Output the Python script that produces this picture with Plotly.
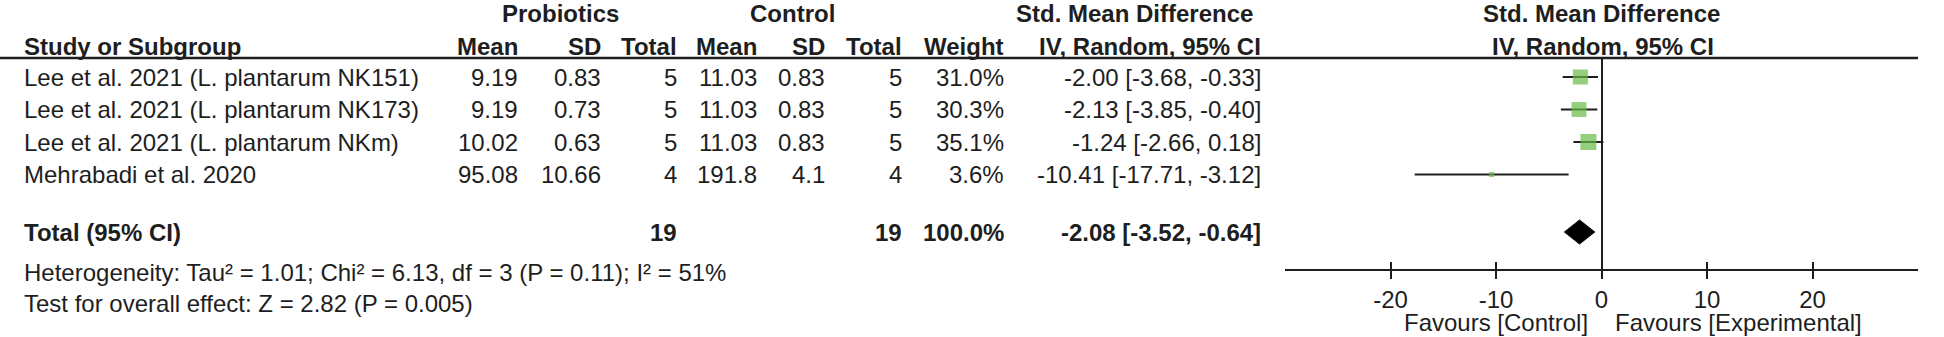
import plotly.graph_objects as go

# ---------------- data ----------------
studies = ["Lee et al. 2021 (L. plantarum NK151)",
           "Lee et al. 2021 (L. plantarum NK173)",
           "Lee et al. 2021 (L. plantarum NKm)",
           "Mehrabadi et al. 2020"]
pro_mean = ["9.19", "9.19", "10.02", "95.08"]
pro_sd = ["0.83", "0.73", "0.63", "10.66"]
pro_n = [5, 5, 5, 4]
ctl_mean = ["11.03", "11.03", "11.03", "191.8"]
ctl_sd = ["0.83", "0.83", "0.83", "4.1"]
ctl_n = [5, 5, 5, 4]
weight = [31.0, 30.3, 35.1, 3.6]
smd = [-2.00, -2.13, -1.24, -10.41]
ci_lo = [-3.68, -3.85, -2.66, -17.71]
ci_hi = [-0.33, -0.40, 0.18, -3.12]

total_pro_n = 19
total_ctl_n = 19
total_weight = 100.0
total_smd = -2.08
total_lo = -3.52
total_hi = -0.64

heterogeneity = "Heterogeneity: Tau² = 1.01; Chi² = 6.13, df = 3 (P = 0.11); I² = 51%"
overall = "Test for overall effect: Z = 2.82 (P = 0.005)"
tick_vals = [-20, -10, 0, 10, 20]
tick_text = ["-20", "-10", "0", "10", "20"]
favour_left = "Favours [Control]"
favour_right = "Favours [Experimental]"

# ---------------- layout constants (pixels) ----------------
W, H = 1944, 337
FONT = "Liberation Sans, Arial, Helvetica, sans-serif"
TXT = "#1e1e1e"
FS = 24
ROW_Y = [77, 109.5, 142, 174.5]
TOTAL_Y = 232
HDR1_Y = 13
HDR2_Y = 46
RULE_Y = 58
AXIS_Y = 269
PLOT_X0, PLOT_X1 = 1285, 1918
COLS = {"name": 22, "pm": 520, "psd": 603, "pn": 679, "cm": 759, "csd": 827,
        "cn": 904, "w": 1006, "ci": 1263}

def px(x):
    return x / W

def py(y):
    return 1 - y / H

annotations = []

def txt(x, y, s, anchor="right", bold=False, size=FS):
    if bold:
        s = "<b>" + s + "</b>"
    annotations.append(dict(x=px(x), y=py(y), xref="paper", yref="paper", text=s,
                            xanchor=anchor, yanchor="middle", showarrow=False,
                            font=dict(family=FONT, size=size, color=TXT)))

# headers
txt(560, HDR1_Y, "Probiotics", "center", True)
txt(792, HDR1_Y, "Control", "center", True)
txt(1255, HDR1_Y, "Std. Mean Difference", "right", True)
txt(1601, HDR1_Y, "Std. Mean Difference", "center", True)
txt(COLS["name"], HDR2_Y, "Study or Subgroup", "left", True)
txt(COLS["pm"], HDR2_Y, "Mean", "right", True)
txt(COLS["psd"], HDR2_Y, "SD", "right", True)
txt(COLS["pn"], HDR2_Y, "Total", "right", True)
txt(COLS["cm"], HDR2_Y, "Mean", "right", True)
txt(COLS["csd"], HDR2_Y, "SD", "right", True)
txt(COLS["cn"], HDR2_Y, "Total", "right", True)
txt(COLS["w"], HDR2_Y, "Weight", "right", True)
txt(COLS["ci"], HDR2_Y, "IV, Random, 95% CI", "right", True)
txt(1603, HDR2_Y, "IV, Random, 95% CI", "center", True)

# rows
for i, s in enumerate(studies):
    y = ROW_Y[i]
    txt(COLS["name"], y, s, "left")
    txt(COLS["pm"], y, pro_mean[i])
    txt(COLS["psd"], y, pro_sd[i])
    txt(COLS["pn"], y, str(pro_n[i]))
    txt(COLS["cm"], y, ctl_mean[i])
    txt(COLS["csd"], y, ctl_sd[i])
    txt(COLS["cn"], y, str(ctl_n[i]))
    txt(COLS["w"], y, f"{weight[i]:.1f}%")
    txt(COLS["ci"], y, f"{smd[i]:.2f} [{ci_lo[i]:.2f}, {ci_hi[i]:.2f}]")

# total row
txt(COLS["name"], TOTAL_Y, "Total (95% CI)", "left", True)
txt(COLS["pn"], TOTAL_Y, str(total_pro_n), "right", True)
txt(COLS["cn"], TOTAL_Y, str(total_ctl_n), "right", True)
txt(COLS["w"], TOTAL_Y, f"{total_weight:.1f}%", "right", True)
txt(COLS["ci"], TOTAL_Y, f"{total_smd:.2f} [{total_lo:.2f}, {total_hi:.2f}]", "right", True)

txt(COLS["name"], 272, heterogeneity, "left")
txt(COLS["name"], 303, overall, "left")

txt(1590, 322, favour_left, "right")
txt(1613, 322, favour_right, "left")

# ---------------- forest plot traces ----------------
fig = go.Figure()

lx, ly = [], []
for i in range(len(studies)):
    lx += [ci_lo[i], ci_hi[i], None]
    ly += [ROW_Y[i], ROW_Y[i], None]
fig.add_trace(go.Scatter(x=lx, y=ly, mode="lines",
                         line=dict(color="#1e1e1e", width=2), hoverinfo="skip",
                         showlegend=False))

wmax = max(weight)
sizes = [16 * (w / wmax) ** 0.5 for w in weight]
fig.add_trace(go.Scatter(x=smd, y=ROW_Y, mode="markers",
                         marker=dict(symbol="square", size=sizes, color="#66BB46",
                                     line=dict(width=0)),
                         showlegend=False))

DH = 12
fig.add_trace(go.Scatter(x=[total_lo, total_smd, total_hi, total_smd, total_lo],
                         y=[TOTAL_Y, TOTAL_Y - DH, TOTAL_Y, TOTAL_Y + DH, TOTAL_Y],
                         mode="lines", fill="toself", fillcolor="#000000",
                         line=dict(color="#000000", width=1), showlegend=False))

# dummy trace for inner-tick overlay axis
fig.add_trace(go.Scatter(x=[0], y=[AXIS_Y], xaxis="x2", yaxis="y", mode="markers",
                         marker=dict(opacity=0), showlegend=False, hoverinfo="skip"))

xdom = [px(PLOT_X0), px(PLOT_X1)]
fig.update_layout(
    width=W, height=H,
    margin=dict(l=0, r=0, t=0, b=0, pad=0),
    paper_bgcolor="white", plot_bgcolor="white",
    font=dict(family=FONT, color=TXT),
    xaxis=dict(domain=xdom, range=[-30, 30], showgrid=False,
               showline=True, linecolor="#1e1e1e", linewidth=2,
               zeroline=True, zerolinecolor="#1e1e1e", zerolinewidth=2,
               ticks="outside", ticklen=8, tickwidth=2, tickcolor="#1e1e1e",
               tickvals=tick_vals, ticktext=tick_text,
               tickfont=dict(family=FONT, size=24, color=TXT),
               anchor="y", fixedrange=True),
    xaxis2=dict(domain=xdom, range=[-30, 30], matches="x", overlaying="x",
                anchor="y", showgrid=False, zeroline=False, showline=False,
                ticks="inside", ticklen=7, tickwidth=2, tickcolor="#1e1e1e",
                tickvals=tick_vals, showticklabels=False),
    yaxis=dict(domain=[py(AXIS_Y), py(RULE_Y)], range=[AXIS_Y, RULE_Y],
               visible=False, showgrid=False, zeroline=False, fixedrange=True),
    annotations=annotations,
    shapes=[dict(type="line", xref="paper", yref="paper",
                 x0=0, x1=px(PLOT_X1), y0=py(RULE_Y), y1=py(RULE_Y),
                 line=dict(color="#1e1e1e", width=2.5))],
    showlegend=False,
)

fig.write_html("out.html",
               config={"displayModeBar": False},
               post_script="document.body.style.margin='0';document.body.style.padding='0';")
